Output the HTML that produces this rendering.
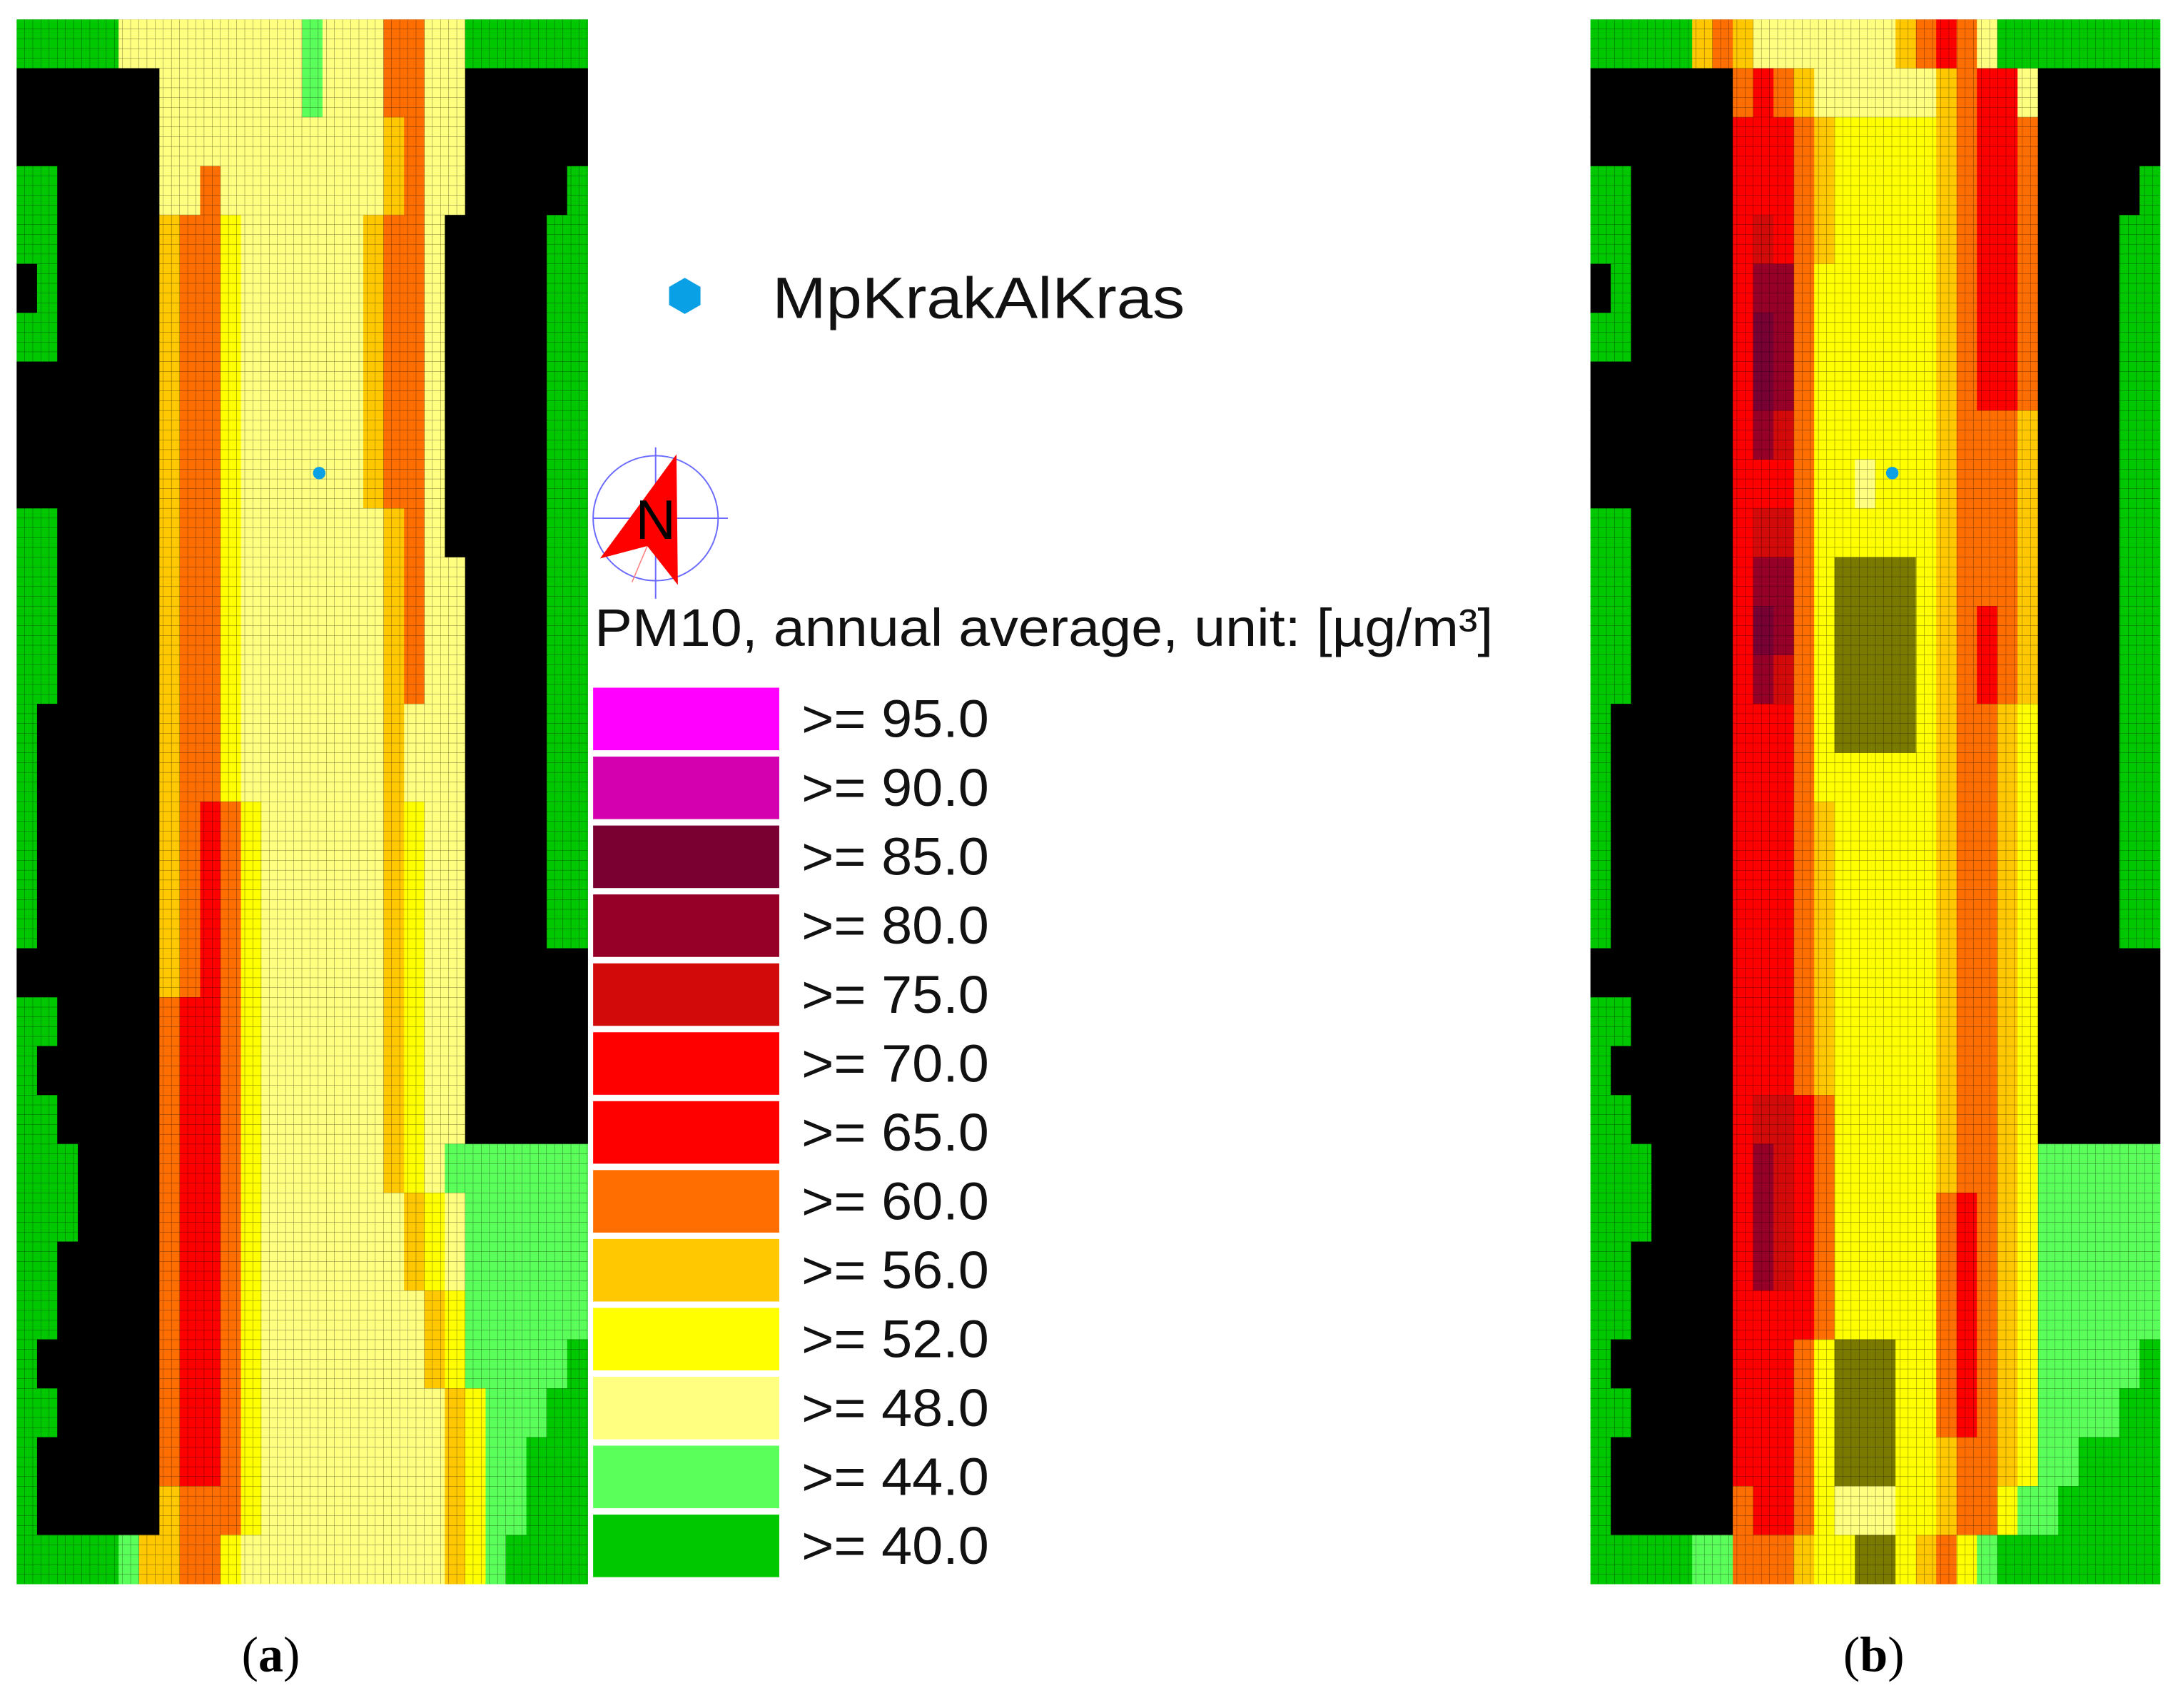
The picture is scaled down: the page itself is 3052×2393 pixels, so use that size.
<!DOCTYPE html>
<html>
<head>
<meta charset="utf-8">
<style>
  html, body { margin:0; padding:0; background:#fff; }
  svg { display:block; }
  text { font-family: "Liberation Sans", "DejaVu Sans", sans-serif; }
</style>
</head>
<body>
<svg id="chart" xmlns="http://www.w3.org/2000/svg" width="3052" height="2393" viewBox="0 0 1568 1229.4" preserveAspectRatio="none">
  <defs>
    <pattern id="gridpat" x="12" y="14" width="5.87" height="7.04" patternUnits="userSpaceOnUse">
      <path d="M5.87 0 V7.04 M0 7.04 H5.87" stroke="#000" stroke-opacity="0.55" stroke-width="0.5" fill="none"/>
    </pattern>
  </defs>
  <g id="panelA"></g>
  <g id="panelB"></g>
  <g id="legend"></g>

  <g>
    <polygon points="493,200 504.3,206.5 504.3,219.5 493,226 481.7,219.5 481.7,206.5" fill="#0aa0e6"/>
    <text x="556" y="229" font-size="42" textLength="297" lengthAdjust="spacingAndGlyphs" fill="#111">MpKrakAlKras</text>
  </g>

  <g>
    <circle cx="472" cy="373" r="45" fill="none" stroke="#6a6aff" stroke-width="1"/>
    <line x1="427" y1="373" x2="524" y2="373" stroke="#6a6aff" stroke-width="1"/>
    <line x1="472" y1="322" x2="472" y2="431" stroke="#6a6aff" stroke-width="1"/>
    <line x1="466" y1="393" x2="455" y2="419" stroke="#ff8080" stroke-width="0.8"/>
    <polygon points="487,327 432,402 466,393 488,421" fill="#ff0000"/>
    <text x="472" y="388" font-size="40" text-anchor="middle" fill="#000">N</text>
  </g>

  <text x="428" y="465" font-size="38" textLength="647" lengthAdjust="spacingAndGlyphs" fill="#111">PM10, annual average, unit: [µg/m³]</text>

  <text x="195" y="1203" font-size="36" text-anchor="middle" style="font-family:'Liberation Serif',serif">(<tspan font-weight="bold">a</tspan>)</text>
  <text x="1349" y="1203" font-size="36" text-anchor="middle" style="font-family:'Liberation Serif',serif">(<tspan font-weight="bold">b</tspan>)</text>
</svg>

<script>
// ---- data: colour classes per grid cell (28 columns x 32 rows) ----
const classCodes = ["K","G","g","l","y","o","O","r","R","m","M","D"];
const classColors = ["#000000","#00c800","#5aff5a","#ffff80","#ffff00","#ffc800","#ff6e00","#ff0000","#d20a0a","#960028","#780032","#7a7a00"];

const panelARows = [
"GGGGGlllllllllglllOOllGGGGGG",
"KKKKKKKlllllllglllOOllKKKKKK",
"KKKKKKKllllllllllloOllKKKKKK",
"GGKKKKKllOlllllllloOllKKKKKG",
"GGKKKKKoOOylllllloOOlKKKKKGG",
"KGKKKKKoOOylllllloOOlKKKKKGG",
"GGKKKKKoOOylllllloOOlKKKKKGG",
"KKKKKKKoOOylllllloOOlKKKKKGG",
"KKKKKKKoOOylllllloOOlKKKKKGG",
"KKKKKKKoOOylllllloOOlKKKKKGG",
"GGKKKKKoOOyllllllloOlKKKKKGG",
"GGKKKKKoOOyllllllloOllKKKKGG",
"GGKKKKKoOOyllllllloOllKKKKGG",
"GGKKKKKoOOyllllllloOllKKKKGG",
"GKKKKKKoOOylllllllolllKKKKGG",
"GKKKKKKoOOylllllllolllKKKKGG",
"GKKKKKKoOrOylllllloyllKKKKGG",
"GKKKKKKoOrOylllllloyllKKKKGG",
"GKKKKKKoOrOylllllloyllKKKKGG",
"KKKKKKKoOrOylllllloyllKKKKKK",
"GGKKKKKOrrOylllllloyllKKKKKK",
"GKKKKKKOrrOylllllloyllKKKKKK",
"GGKKKKKOrrOylllllloyllKKKKKK",
"GGGKKKKOrrOylllllloylggggggg",
"GGGKKKKOrrOyllllllloylgggggg",
"GGKKKKKOrrOyllllllloylgggggg",
"GGKKKKKOrrOylllllllloygggggg",
"GKKKKKKOrrOylllllllloygggggG",
"GGKKKKKOrrOyllllllllloygggGG",
"GKKKKKKOrrOyllllllllloyggGGG",
"GKKKKKKoOOOyllllllllloyggGGG",
"GGGGGgooOOylllllllllloygGGGG"
];

const panelBRows = [
"GGGGGoOollllllloOrOlGGGGGGGG",
"KKKKKKKOrOolllllloOrrlKKKKKK",
"KKKKKKKrrrOoyyyyyoOrrOKKKKKK",
"GGKKKKKrrrOoyyyyyoOrrOKKKKKG",
"GGKKKKKrRrOoyyyyyoOrrOKKKKGG",
"KGKKKKKrmmOyyyyyyoOrrOKKKKGG",
"GGKKKKKrMmOyyyyyyoOrrOKKKKGG",
"KKKKKKKrMmOyyyyyyoOrrOKKKKGG",
"KKKKKKKrmROyyyyyyoOOOoKKKKGG",
"KKKKKKKrrrOyylyyyoOOOoKKKKGG",
"GGKKKKKrRROyyyyyyoOOOoKKKKGG",
"GGKKKKKrmmOyDDDDyoOOOoKKKKGG",
"GGKKKKKrMmOyDDDDyoOrOoKKKKGG",
"GGKKKKKrmROyDDDDyoOrOoKKKKGG",
"GKKKKKKrrrOyDDDDyoOOoyKKKKGG",
"GKKKKKKrrrOyyyyyyoOOoyKKKKGG",
"GKKKKKKrrrOoyyyyyoOOoyKKKKGG",
"GKKKKKKrrrOoyyyyyoOOoyKKKKGG",
"GKKKKKKrrrOoyyyyyoOOoyKKKKGG",
"KKKKKKKrrrOoyyyyyoOOoyKKKKKK",
"GGKKKKKrrrOoyyyyyoOOoyKKKKKK",
"GKKKKKKrrrOoyyyyyoOOoyKKKKKK",
"GGKKKKKrRRrOyyyyyoOOoyKKKKKK",
"GGGKKKKrmRrOyyyyyoOOoygggggg",
"GGGKKKKrmRrOyyyyyOrOoygggggg",
"GGKKKKKrmRrOyyyyyOrOoygggggg",
"GGKKKKKrrrrOyyyyyOrOoygggggg",
"GKKKKKKrrrOyDDDyyOrOoygggggG",
"GGKKKKKrrrOyDDDyyOrOoyggggGG",
"GKKKKKKrrrOyDDDyyoOOoyggGGGG",
"GKKKKKKOrrOylllyyoOOyggGGGGG",
"GGGGGggOOOoyyDDyoOygGGGGGGGG"
];

const legendLabels = [">= 95.0",">= 90.0",">= 85.0",">= 80.0",">= 75.0",">= 70.0",">= 65.0",">= 60.0",">= 56.0",">= 52.0",">= 48.0",">= 44.0",">= 40.0"];
const legendColors = ["#ff00ff","#d400b0","#7a0032","#960028","#d20a0a","#ff0000","#ff0000","#ff6e00","#ffc800","#ffff00","#ffff80","#5aff5a","#00c800"];

const stationA = [0.53, 0.29];
const stationB = [0.53, 0.29];

// ---- drawing ----
const NS = "http://www.w3.org/2000/svg";
function colX(panelX, panelW, cols, i) { return panelX + panelW * i / cols; }
function rowY(panelY, panelH, rows, j) { return panelY + panelH * j / rows; }

function drawPanel(gId, rowsData, px, py, pw, ph, station, nameSuffix) {
  const g = document.getElementById(gId);
  const rows = rowsData.length;
  rowsData.forEach((row, j) => {
    const cols = row.length;
    for (let i = 0; i < cols; i++) {
      const ci = classCodes.indexOf(row[i]);
      const x0 = colX(px, pw, cols, i), x1 = colX(px, pw, cols, i + 1);
      const y0 = rowY(py, ph, rows, j), y1 = rowY(py, ph, rows, j + 1);
      const r = document.createElementNS(NS, "rect");
      r.setAttribute("x", x0); r.setAttribute("y", y0);
      r.setAttribute("width", x1 - x0 + 0.3); r.setAttribute("height", y1 - y0 + 0.3);
      r.setAttribute("fill", classColors[ci]);
      
      
      g.appendChild(r);
    }
  });
  const grid = document.createElementNS(NS, "rect");
  grid.setAttribute("x", px); grid.setAttribute("y", py);
  grid.setAttribute("width", pw); grid.setAttribute("height", ph);
  grid.setAttribute("fill", "url(#gridpat)");
  
  
  g.appendChild(grid);
  const m = document.createElementNS(NS, "circle");
  m.setAttribute("cx", px + pw * station[0]); m.setAttribute("cy", py + ph * station[1]);
  m.setAttribute("r", 4.5); m.setAttribute("fill", "#0aa0e6");
  
  
  g.appendChild(m);
}

drawPanel("panelA", panelARows, 12, 14, 411, 1126, stationA, "a");
drawPanel("panelB", panelBRows, 1145, 14, 410, 1126, stationB, "b");

// legend
const lg = document.getElementById("legend");
const legTop = 495, legStep = 49.6, boxH = 45;
legendLabels.forEach((lab, k) => {
  const y = legTop + k * legStep;
  const r = document.createElementNS(NS, "rect");
  r.setAttribute("x", 427); r.setAttribute("y", y);
  r.setAttribute("width", 134); r.setAttribute("height", boxH);
  r.setAttribute("fill", legendColors[k]);
  
  
  lg.appendChild(r);
  const t = document.createElementNS(NS, "text");
  t.setAttribute("x", 577); t.setAttribute("y", y + boxH / 2 + 13);
  t.setAttribute("font-size", "38"); t.setAttribute("fill", "#111");
  t.setAttribute("textLength", "135"); t.setAttribute("lengthAdjust", "spacingAndGlyphs");
  t.textContent = lab;
  
  
  lg.appendChild(t);
});
</script>
</body>
</html>
